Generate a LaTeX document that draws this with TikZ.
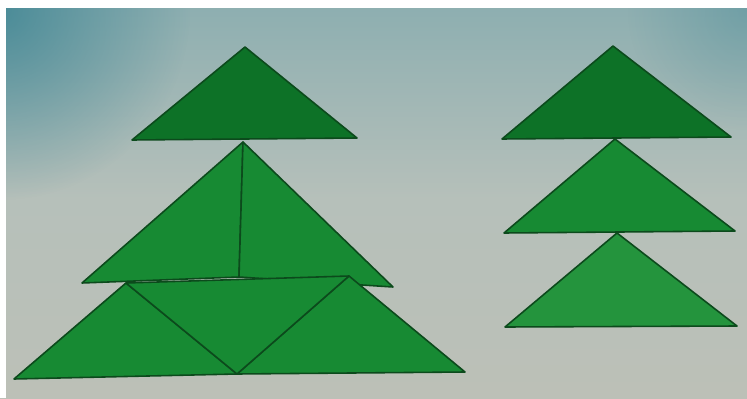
\documentclass[tikz,border=0pt]{standalone}
\usepackage{tikz}
\usetikzlibrary{calc, fadings}
\definecolor{screentop}{HTML}{8CAEB0}
\definecolor{screenmid}{HTML}{B6C0BA}
\definecolor{screenbot}{HTML}{BCC0B7}
\definecolor{screencorner}{HTML}{3A8392}
\definecolor{edgegreen}{HTML}{0C4A1C}
\definecolor{darkgreen}{HTML}{0D7227}
\definecolor{midgreen}{HTML}{178A33}
\definecolor{lightgreen}{HTML}{24943D}
\tikzfading[name=cornerfade, inner color=transparent!0, outer color=transparent!100]
\tikzset{
  piece/.style={
    fill=#1, draw=edgegreen, line width=0.45pt, line join=round
  },
  piece/.default=midgreen,
}

\begin{document}
\begin{tikzpicture}[x=0.1mm, y=-0.1mm]
    \useasboundingbox (0,0) rectangle (747,398);
    % screen background
    \shade[top color=screentop, bottom color=screenbot, middle color=screenmid]
         (0,0) rectangle (747,398);
    \begin{scope}
      \clip (0,0) rectangle (747,398);
      \fill[screencorner, opacity=0.8, path fading=cornerfade] (0,10) circle (190);
      \fill[screencorner, opacity=0.35, path fading=cornerfade] (747,10) circle (120);
    \end{scope}
    \fill[white] (0,0) rectangle (747,8);
    \fill[white] (0,0) rectangle (6,398);

    % left tree
    \coordinate (ltA) at (245,47);
    \coordinate (ltL) at (132,140);
    \coordinate (ltR) at (357,138);
    \draw[piece=darkgreen] (ltA) -- (ltL) -- (ltR) -- cycle;

    \coordinate (lmA) at (243,142);
    \coordinate (lmL) at (82,283);
    \coordinate (lmM) at (239,277);
    \coordinate (lmR) at (393,287);
    \draw[piece=midgreen] (lmA) -- (lmL) -- (lmM) -- cycle;
    \draw[piece=midgreen] (lmA) -- (lmM) -- (lmR) -- cycle;

    \coordinate (lbL)  at (14,379);
    \coordinate (lbTL) at (126,283);
    \coordinate (lbTR) at (349,276);
    \coordinate (lbM)  at (237,374);
    \coordinate (lbR)  at (465,372);
    \draw[piece=midgreen] (lbL) -- (lbTL) -- (lbM) -- cycle;
    \draw[piece=midgreen] (lbM) -- (lbTR) -- (lbR) -- cycle;
    \draw[piece=midgreen] (lbTL) -- (lbTR) -- (lbM) -- cycle;

    % right tree
    \coordinate (rtA) at (613,46);
    \coordinate (rtL) at (502,139);
    \coordinate (rtR) at (731,137);
    \draw[piece=darkgreen] (rtA) -- (rtL) -- (rtR) -- cycle;

    \coordinate (rmA) at (615,139);
    \coordinate (rmL) at (504,233);
    \coordinate (rmR) at (735,231);
    \draw[piece=midgreen] (rmA) -- (rmL) -- (rmR) -- cycle;

    \coordinate (rbA) at (617,233);
    \coordinate (rbL) at (505,327);
    \coordinate (rbR) at (737,326);
    \draw[piece=lightgreen] (rbA) -- (rbL) -- (rbR) -- cycle;
\end{tikzpicture}
\end{document}
